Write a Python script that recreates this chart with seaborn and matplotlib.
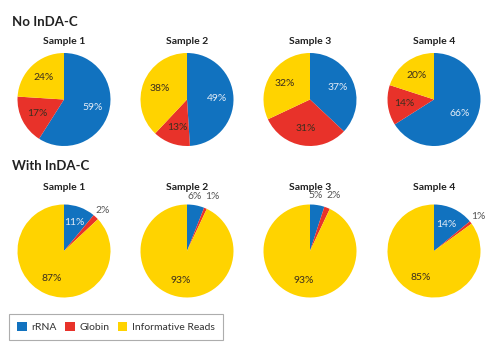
import matplotlib
matplotlib.use('Agg')
import matplotlib.pyplot as plt
from matplotlib.patches import Patch
import numpy as np
import seaborn as sns

sns.set_theme(style='white')
plt.rcParams['font.family'] = ['Lato', 'DejaVu Sans']

categories = ['rRNA', 'Globin', 'Informative Reads']
colors = ['#1172BF', '#E8322A', '#FFD300']
samples = ['Sample 1', 'Sample 2', 'Sample 3', 'Sample 4']
no_indac = [[59, 17, 24], [49, 13, 38], [37, 31, 32], [66, 14, 20]]
with_indac = [[11, 2, 87], [6, 1, 93], [5, 2, 93], [14, 1, 85]]

W, H = 500, 357
fig = plt.figure(figsize=(W / 100, H / 100), dpi=100)
fig.patch.set_facecolor('white')

cxs = [64, 187, 310, 434]
r = 46.5


def draw_pie(cx, cy, vals, title, title_gap):
    ax = fig.add_axes([(cx - r) / W, 1 - (cy + r) / H, 2 * r / W, 2 * r / H])
    wedges, _ = ax.pie(vals, colors=colors, startangle=90, counterclock=False,
                       radius=1, wedgeprops=dict(linewidth=0))
    pos = []
    for i, (w, v) in enumerate(zip(wedges, vals)):
        ang = np.deg2rad((w.theta1 + w.theta2) / 2)
        d = 1.2 if v < 10 else 0.64
        pos.append([d * np.cos(ang), d * np.sin(ang), 'center'])
    # two small neighbouring slices: put their labels side by side
    if vals[0] < 10 and vals[1] < 10:
        mx = (pos[0][0] + pos[1][0]) / 2
        my = max(pos[0][1], pos[1][1])
        pos[0] = [mx - 0.04, my, 'right']
        pos[1] = [mx + 0.04, my, 'left']
    for i, v in enumerate(vals):
        if v < 10:
            col = '#555555'
        else:
            col = '#E4ECF6' if i == 0 else '#3B2E1E'
        x, y, ha = pos[i]
        ax.text(x, y, f'{v}%', ha=ha, va='center', fontsize=7.5, color=col)
    ax.set_xlim(-1, 1)
    ax.set_ylim(-1, 1)
    ax.set_aspect('equal')
    ax.axis('off')
    fig.text(cx / W, 1 - (cy - r - title_gap) / H, title, ha='center', va='center',
             fontsize=7.5, fontweight='bold', color='#222222')


fig.text(12 / W, 1 - 22 / H, 'No InDA-C', ha='left', va='center',
         fontsize=9.5, fontweight='bold', color='#222222')
fig.text(12 / W, 1 - 166 / H, 'With InDA-C', ha='left', va='center',
         fontsize=9.5, fontweight='bold', color='#222222')

for cx, vals, s in zip(cxs, no_indac, samples):
    draw_pie(cx, 99.5, vals, s, 11)
for cx, vals, s in zip(cxs, with_indac, samples):
    draw_pie(cx, 251, vals, s, 17)

handles = [Patch(facecolor=c, edgecolor='none') for c in colors]
leg = fig.legend(handles, categories, loc='center', ncol=3,
                 bbox_to_anchor=(116 / W, 1 - 327 / H), fontsize=7.5,
                 frameon=True, fancybox=False, edgecolor='#999999',
                 handlelength=0.9, handleheight=0.9, handletextpad=0.45,
                 columnspacing=0.8, borderpad=0.8, borderaxespad=0)
leg.get_frame().set_linewidth(0.8)
for t in leg.get_texts():
    t.set_color('#333333')

fig.savefig('out.png', dpi=100, facecolor='white')
